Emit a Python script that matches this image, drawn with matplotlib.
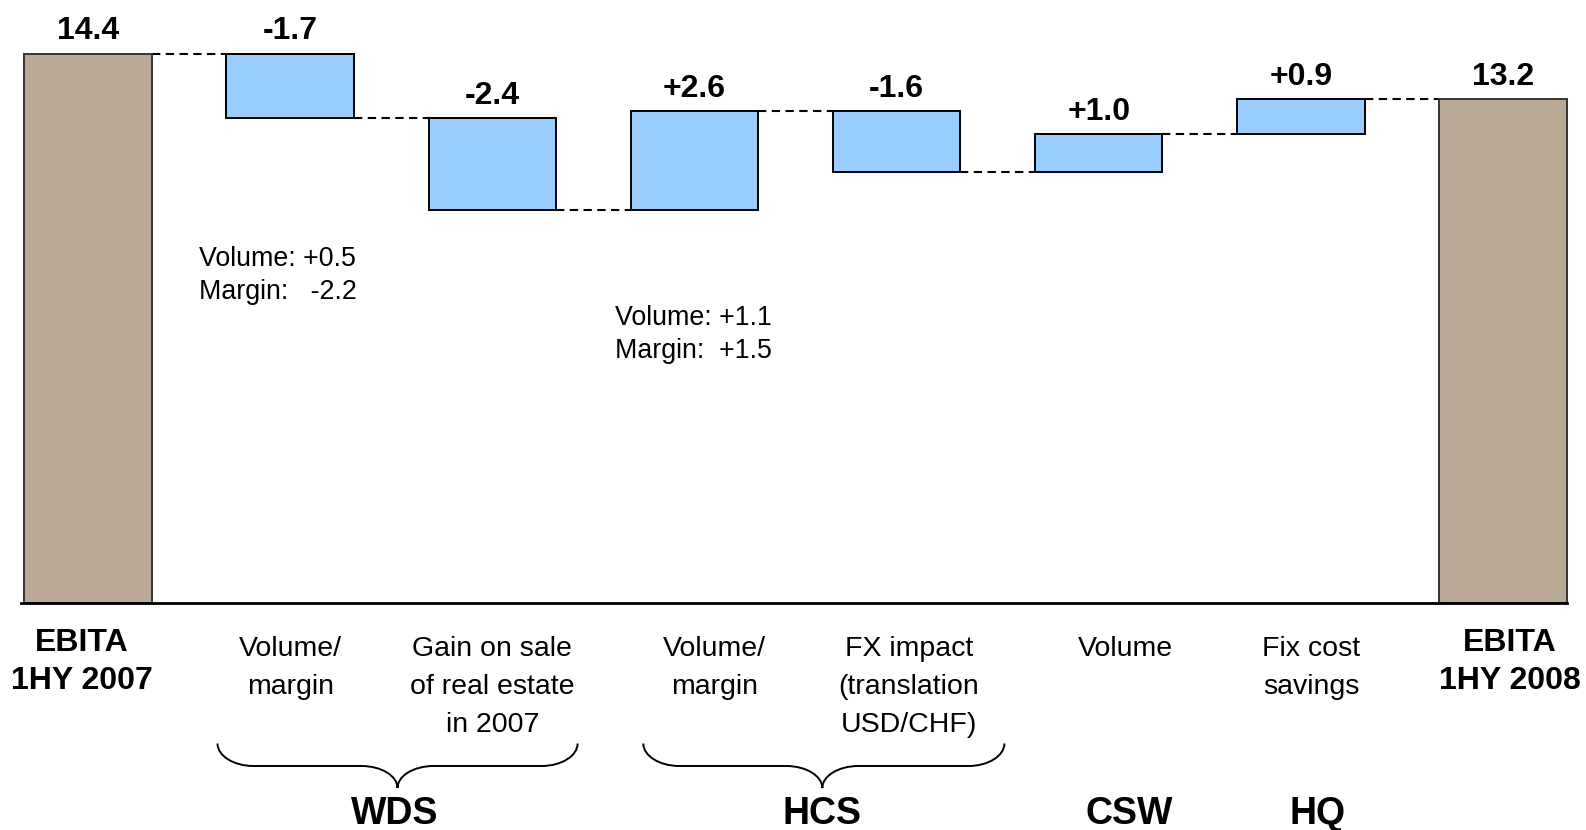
import matplotlib
matplotlib.use("Agg")
import matplotlib.pyplot as plt
from matplotlib.path import Path
from matplotlib.patches import PathPatch

# ---------------- data ----------------
start_value = 14.4
deltas = [-1.7, -2.4, 2.6, -1.6, 1.0, 0.9]
end_value = 13.2
value_labels = ["14.4", "-1.7", "-2.4", "+2.6", "-1.6", "+1.0", "+0.9", "13.2"]
categories = ["EBITA\n1HY 2007", "Volume/\nmargin", "Gain on sale\nof real estate\nin 2007",
              "Volume/\nmargin", "FX impact\n(translation\nUSD/CHF)", "Volume",
              "Fix cost\nsavings", "EBITA\n1HY 2008"]
category_bold = [True, False, False, False, False, False, False, True]
groups = ["WDS", "HCS", "CSW", "HQ"]
notes = ["Volume: +0.5\nMargin:   -2.2", "Volume: +1.1\nMargin:  +1.5"]

# ---------------- layout ----------------
W, H = 1586, 830
X0_PX, DX_PX = 88.0, 202.14          # pixel x of first bar centre, spacing
BASE_PX, UNIT_PX = 603.0, 38.15      # pixel y of zero, pixels per unit

fig = plt.figure(figsize=(W / 100, H / 100), dpi=100)
ax = fig.add_axes([0, 0, 1, 1])
ax.set_xlim(-X0_PX / DX_PX, (W - X0_PX) / DX_PX)
ax.set_ylim(-(H - BASE_PX) / UNIT_PX, BASE_PX / UNIT_PX)
ax.axis("off")

def px2x(px):
    return (px - X0_PX) / DX_PX

def px2y(py):
    return (BASE_PX - py) / UNIT_PX

FONT = "Liberation Sans"
TAN = "#B9A994"
BLUE = "#99CCFF"
bw = 0.63

# running levels
levels = [start_value]
for d in deltas:
    levels.append(levels[-1] + d)

n = len(value_labels)
bottoms, heights, tops, colors, edges = [], [], [], [], []
for i in range(n):
    if i == 0:
        b, h = 0, start_value
    elif i == n - 1:
        b, h = 0, end_value
    else:
        d = deltas[i - 1]
        b = min(levels[i - 1], levels[i])
        h = abs(d)
    bottoms.append(b)
    heights.append(h)
    tops.append(b + h)
    colors.append(TAN if i in (0, n - 1) else BLUE)
    edges.append("#333333" if i in (0, n - 1) else "black")

xs = list(range(n))
ax.bar(xs, heights, bottom=bottoms, width=bw, color=colors,
       edgecolor=edges, linewidth=1.4, zorder=3)

# baseline
ax.plot([-0.33, n - 1 + bw / 2], [0, 0], color="black", lw=2.0, zorder=4)

# connectors
for i in range(n - 1):
    lvl = levels[i]
    ax.plot([i + bw / 2, i + 1 - bw / 2], [lvl, lvl], color="black",
            lw=1.5, ls=(0, (4, 2.6)), zorder=2)

# value labels
for i in range(n):
    ax.annotate(value_labels[i], (xs[i], tops[i]), xytext=(0, 16),
                textcoords="offset points", ha="center", va="center",
                fontsize=23, fontweight="bold", family=FONT)

# category labels
cat_dx = [-0.03, 0.0, 0.0, 0.1, 0.06, 0.13, 0.05, 0.035]
for i, lab in enumerate(categories):
    lines = lab.split("\n")
    if category_bold[i]:
        ys = [643, 681]
        fw, fs = "bold", 23
    else:
        ys = [649, 687, 725]
        fw, fs = "normal", 20.5
    for j, line in enumerate(lines):
        ax.text(xs[i] + cat_dx[i], px2y(ys[j]), line, ha="center", va="center",
                fontsize=fs, fontweight=fw, family=FONT)

# group labels
group_x = [1.516, 3.633, 5.15, 6.085]
for g, gx in zip(groups, group_x):
    ax.text(gx, px2y(824), g, ha="center", va="baseline", fontsize=27,
            fontweight="bold", family=FONT)

# braces
def brace(x0p, x1p, xtp, ytop=743.5, ymid=766.0, ytip=788.0, r=36.0):
    k = 0.55
    pts = [
        (x0p, ytop),
        (x0p, ytop + k * (ymid - ytop)), (x0p + r - k * r, ymid), (x0p + r, ymid),
        (xtp - r, ymid),
        (xtp - r + k * r, ymid), (xtp, ytip - k * (ytip - ymid)), (xtp, ytip),
        (xtp, ytip - k * (ytip - ymid)), (xtp + r - k * r, ymid), (xtp + r, ymid),
        (x1p - r, ymid),
        (x1p - r + k * r, ymid), (x1p, ytop + k * (ymid - ytop)), (x1p, ytop),
    ]
    codes = [Path.MOVETO, Path.CURVE4, Path.CURVE4, Path.CURVE4, Path.LINETO,
             Path.CURVE4, Path.CURVE4, Path.CURVE4, Path.CURVE4, Path.CURVE4,
             Path.CURVE4, Path.LINETO, Path.CURVE4, Path.CURVE4, Path.CURVE4]
    verts = [(px2x(a), px2y(b)) for a, b in pts]
    ax.add_patch(PathPatch(Path(verts, codes), fill=False, lw=1.4,
                           edgecolor="black", zorder=3))

brace(217.5, 577.6, 397.5)
brace(643.3, 1004.4, 822.3)

# notes
note_pos = [(199.0, 259.0), (615.0, 318.0)]
for txt, (nx, ny) in zip(notes, note_pos):
    for j, line in enumerate(txt.split("\n")):
        ax.text(px2x(nx), px2y(ny + j * 33), line, ha="left", va="center",
                fontsize=19.3, family=FONT)

fig.savefig("out.png", dpi=100)
